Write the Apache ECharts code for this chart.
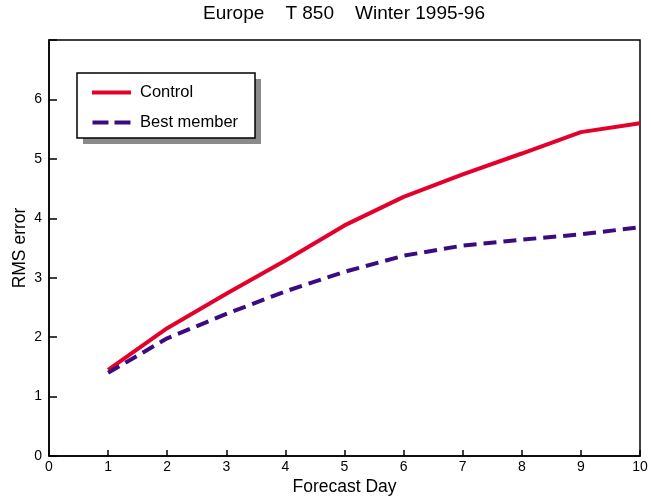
<!DOCTYPE html>
<html>
<head>
<meta charset="utf-8">
<script src="https://cdn.jsdelivr.net/npm/echarts@6/dist/echarts.min.js"></script>
<style>
  html, body { margin: 0; padding: 0; background: #fff; }
  #chart { width: 651px; height: 497px; }
</style>
</head>
<body>
<div id="chart"></div>
<script>
// Forecast days and RMS error of T850 over Europe, winter 1995-96
const days = [1, 2, 3, 4, 5, 6, 7, 8, 9, 10];
const controlRms = [1.45, 2.15, 2.73, 3.29, 3.88, 4.36, 4.74, 5.09, 5.45, 5.60];
const bestMemberRms = [1.40, 1.98, 2.39, 2.77, 3.10, 3.37, 3.54, 3.64, 3.73, 3.85];
const yTickLabels = ['0', '1', '2', '3', '4', '5', '6', ''];

const FONT = 'Liberation Sans, Arial, Helvetica, sans-serif';
const RED = '#e3002a';
const PURPLE = '#3b0b80';

const chart = echarts.init(document.getElementById('chart'), null, { renderer: 'canvas' });

chart.setOption({
  animation: false,
  backgroundColor: '#fff',
  title: {
    text: 'Europe    T 850    Winter 1995-96',
    left: 203,
    top: 4,
    padding: 0,
    textStyle: { fontFamily: FONT, fontSize: 19, fontWeight: 'normal', color: '#000' }
  },
  grid: {
    left: 49, right: 11, top: 40, bottom: 41,
    outerBoundsMode: 'none',
    containLabel: false,
    show: true, borderColor: '#000', borderWidth: 1.5, backgroundColor: 'transparent'
  },
  // framed legend panel with a drop shadow
  graphic: [
    { type: 'rect', z: 50, shape: { x: 83, y: 79, width: 178, height: 65 }, style: { fill: '#8a8a8a' } },
    { type: 'rect', z: 51, shape: { x: 77, y: 73, width: 178, height: 65 }, style: { fill: '#fff', stroke: '#000', lineWidth: 1.5 } }
  ],
  legend: {
    orient: 'vertical',
    left: 92, top: 84,
    padding: 0,
    z: 60,
    itemGap: 13,
    itemWidth: 39, itemHeight: 4,
    textStyle: { fontFamily: FONT, fontSize: 16.5, lineHeight: 16, color: '#000', padding: [0, 0, 0, 4] },
    data: [
      { name: 'Control', icon: 'path://M0,0 L39,0 L39,4 L0,4 Z' },
      { name: 'Best member', icon: 'path://M0,0 L16,0 L16,4 L0,4 Z M22,0 L38,0 L38,4 L22,4 Z' }
    ]
  },
  xAxis: {
    type: 'value',
    min: 0, max: 10, interval: 1,
    name: 'Forecast Day',
    nameLocation: 'middle',
    nameGap: 22,
    nameMoveOverlap: false,
    nameTextStyle: { fontFamily: FONT, fontSize: 17.5, color: '#000' },
    axisLine: { show: true, lineStyle: { color: '#000', width: 1.5 } },
    axisTick: { show: true, inside: true, length: 6, lineStyle: { color: '#000', width: 1.5 } },
    axisLabel: { fontFamily: FONT, fontSize: 14, color: '#000', margin: 4, showMaxLabel: true, showMinLabel: true },
    splitLine: { show: false }
  },
  yAxis: {
    type: 'value',
    min: 0, max: 7, interval: 1,
    name: 'RMS error',
    nameLocation: 'middle',
    nameGap: 20,
    nameMoveOverlap: false,
    nameRotate: 90,
    nameTextStyle: { fontFamily: FONT, fontSize: 17.5, color: '#000' },
    axisLine: { show: true, lineStyle: { color: '#000', width: 1.5 } },
    axisTick: { show: true, inside: true, length: 8, lineStyle: { color: '#000', width: 1.5 } },
    axisLabel: {
      fontFamily: FONT, fontSize: 14, color: '#000', margin: 7,
      formatter: v => yTickLabels[Math.round(v)]
    },
    splitLine: { show: false }
  },
  series: [
    {
      name: 'Control',
      type: 'line',
      data: days.map((d, i) => [d, controlRms[i]]),
      showSymbol: false,
      color: RED,
      lineStyle: { color: RED, width: 4 }
    },
    {
      name: 'Best member',
      type: 'line',
      data: days.map((d, i) => [d, bestMemberRms[i]]),
      showSymbol: false,
      color: PURPLE,
      lineStyle: { color: PURPLE, width: 4, type: [13, 7] }
    }
  ]
});
</script>
</body>
</html>
